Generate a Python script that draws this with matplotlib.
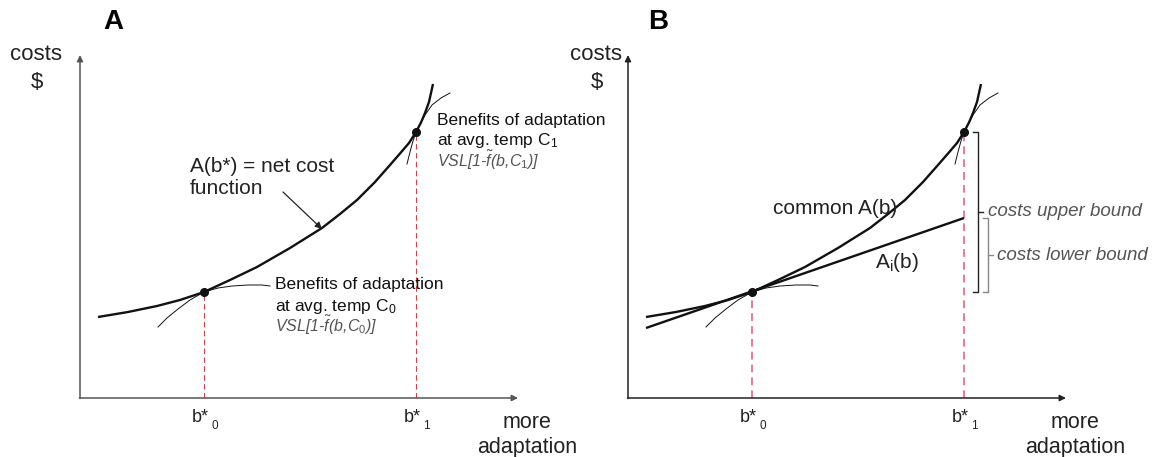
import matplotlib.pyplot as plt

plt.rcParams['font.family'] = ['Liberation Sans', 'DejaVu Sans']
plt.rcParams['mathtext.fontset'] = 'custom'
plt.rcParams['mathtext.rm'] = 'Liberation Sans'
plt.rcParams['mathtext.it'] = 'Liberation Sans:italic'

# optimal adaptation levels and the net cost at each
b_star = [1.24, 3.36]
cost_at_b = [1.06, 2.66]
b_labels = ['0', '1']

# A(b*) net cost curve
net_cost_x = [0.18, 0.48, 0.77, 1.00, 1.24, 1.50, 1.77, 2.10, 2.42, 2.60,
              2.77, 2.95, 3.10, 3.20, 3.29, 3.36, 3.41, 3.45, 3.49, 3.53]
net_cost_y = [0.81, 0.86, 0.92, 0.98, 1.06, 1.18, 1.31, 1.50, 1.70, 1.84,
              1.98, 2.16, 2.33, 2.445, 2.55, 2.66, 2.755, 2.85, 2.96, 3.14]

# benefit curves at temperature C0 and C1
benefit0_x = [0.78, 0.87, 0.98, 1.10, 1.24, 1.38, 1.52, 1.68, 1.82, 1.90]
benefit0_y = [0.71, 0.80, 0.89, 0.98, 1.06, 1.10, 1.12, 1.13, 1.13, 1.12]
benefit1_x = [3.27, 3.30, 3.33, 3.36, 3.40, 3.45, 3.52, 3.61, 3.70]
benefit1_y = [2.34, 2.46, 2.57, 2.66, 2.735, 2.83, 2.93, 3.00, 3.05]

# linear A_i(b) through b*_0
linear_x = [0.18, 3.36]
linear_y = [0.70, 1.80]

fig = plt.figure(figsize=(11.52, 4.57), dpi=100)
axA = fig.add_axes([0, 0, 576 / 1152, 1])
axB = fig.add_axes([548 / 1152, 0, 604 / 1152, 1])
axA.set_xlim(-0.80, 4.96)
axB.set_xlim(-0.80, 5.24)

ink = '#222222'


def base_panel(ax, letter, letter_x, axis_color, dash_color, dash_lw, dash_pat, costs_x):
    ax.set_ylim(-0.59, 3.98)
    ax.axis('off')
    # axes with arrow heads
    ax.annotate('', xy=(0, 3.43), xytext=(0, -0.005),
                arrowprops=dict(arrowstyle='-|>', color=axis_color, lw=1.1,
                                mutation_scale=9, shrinkA=0, shrinkB=0))
    ax.annotate('', xy=(4.38, 0), xytext=(-0.005, 0),
                arrowprops=dict(arrowstyle='-|>', color=axis_color, lw=1.1,
                                mutation_scale=9, shrinkA=0, shrinkB=0))
    ax.text(costs_x, 3.44, 'costs', fontsize=16, color=ink, ha='center', va='center')
    ax.text(costs_x + 0.01, 3.15, '$', fontsize=16, color=ink, ha='center', va='center')
    ax.text(4.47, -0.25, 'more', fontsize=15.5, color=ink, ha='center', va='center')
    ax.text(4.47, -0.49, 'adaptation', fontsize=15.5, color=ink, ha='center', va='center')
    ax.text(letter_x, 3.76, letter, fontsize=20, fontweight='bold',
            ha='center', va='center')

    for b, c, lab in zip(b_star, cost_at_b, b_labels):
        ax.plot([b, b], [0, c], color=dash_color, lw=dash_lw, ls=(0, dash_pat), zorder=1)
        ax.text(b + 0.05, -0.19, 'b*', fontsize=13, color=ink, ha='right', va='center')
        ax.text(b + 0.07, -0.28, lab, fontsize=8.5, color=ink, ha='left', va='center')

    ax.plot(net_cost_x, net_cost_y, color='#111111', lw=1.7, solid_capstyle='butt',
            solid_joinstyle='round', zorder=3)
    ax.plot(benefit0_x, benefit0_y, color='#111111', lw=0.7, zorder=2)
    ax.plot(benefit1_x, benefit1_y, color='#111111', lw=0.7, zorder=2)
    ax.plot(b_star, cost_at_b, 'o', color='#111111', ms=5.5, zorder=4)


# ---- panel A ----
base_panel(axA, 'A', 0.33, '#555555', '#e03a44', 0.8, (5, 3), -0.44)
axA.text(1.10, 2.205, 'A(b*) = net cost\nfunction', fontsize=15, color=ink,
         ha='left', va='center', linespacing=1.2)
axA.annotate('', xy=(2.42, 1.69), xytext=(2.03, 2.06),
             arrowprops=dict(arrowstyle='-|>', color=ink, lw=0.9,
                             mutation_scale=10, shrinkA=0, shrinkB=0))

for x0, y0, c in [(1.95, 1.13, '0'), (3.57, 2.78, '1')]:
    axA.text(x0, y0, 'Benefits of adaptation', fontsize=12.5, color='#111111',
             ha='left', va='center')
    axA.text(x0, y0 - 0.21, r'at avg. temp $\mathregular{C_%s}$' % c, fontsize=12.5,
             color='#111111', ha='left', va='center')
    axA.text(x0, y0 - 0.40, r'VSL[1-$\tilde{f}$(b,$C_%s$)]' % c, fontsize=11.5,
             color='#555555', style='italic', ha='left', va='center')

# ---- panel B ----
base_panel(axB, 'B', 0.30, '#222222', '#f07a8c', 1.4, (4, 2.6), -0.32)
axB.plot(linear_x, linear_y, color='#111111', lw=1.7, solid_capstyle='butt', zorder=3)
axB.text(2.07, 1.90, 'common A(b)', fontsize=15, color=ink, ha='center', va='center')
axB.text(2.47, 1.35, r'A$_\mathregular{i}$(b)', fontsize=15, color=ink,
         ha='left', va='center')


def bracket(ax, x, top, bottom, color, label, label_x):
    mid = (top + bottom) / 2
    ax.plot([x - 0.05, x, x, x - 0.05], [top, top, bottom, bottom], color=color, lw=1.0)
    ax.plot([x, x + 0.05], [mid, mid], color=color, lw=1.0)
    ax.text(label_x, mid, label, fontsize=13.5, color='#555555', style='italic',
            ha='left', va='center')


bracket(axB, 3.50, cost_at_b[1], cost_at_b[0], '#222222', 'costs upper bound', 3.60)
bracket(axB, 3.60, linear_y[1], cost_at_b[0], '#888888', 'costs lower bound', 3.69)

fig.savefig('out.png', dpi=100)
